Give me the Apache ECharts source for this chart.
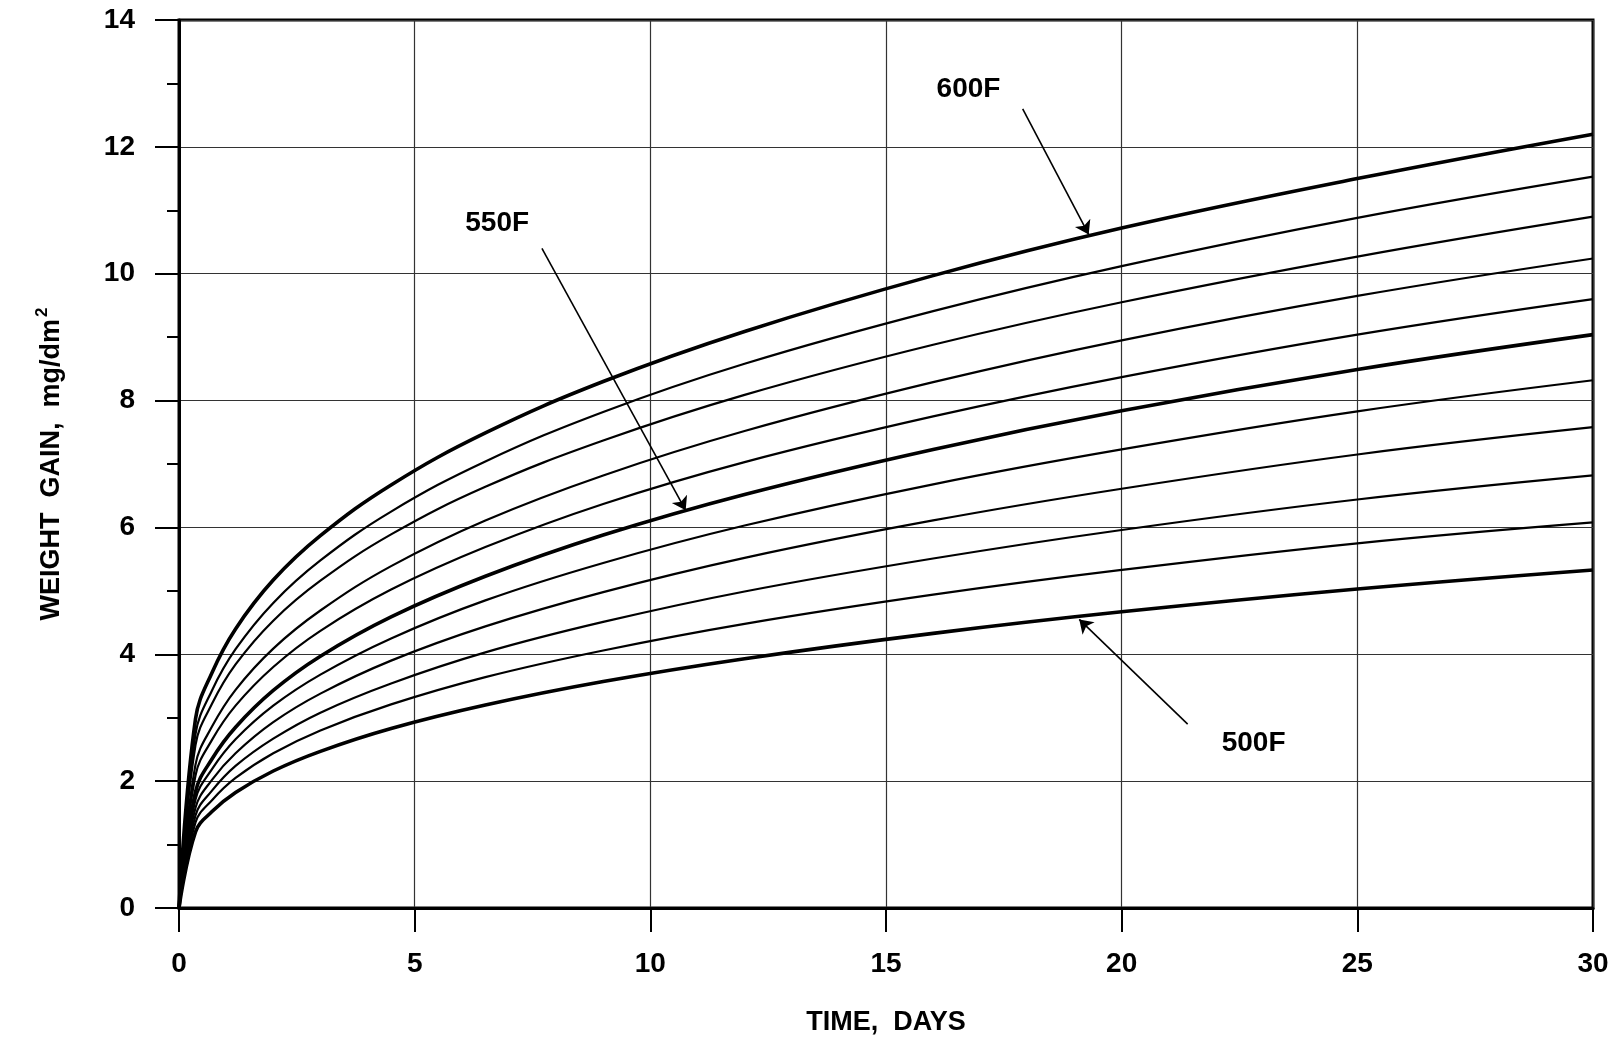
<!DOCTYPE html>
<html>
<head>
<meta charset="utf-8">
<script src="https://cdn.jsdelivr.net/npm/echarts@6/dist/echarts.min.js"></script>
<style>
html,body{margin:0;padding:0;background:#fff;}
#chart{width:1619px;height:1041px;}
</style>
</head>
<body>
<div id="chart"></div>
<script>
// Time, days
const days = [0, 0.35, 0.7, 1.2, 2, 3, 4.5, 6.5, 9, 12, 16, 20, 25, 30];
// Weight gain, mg/dm^2 (curves from 600F down to 500F in 10F steps)
const w600 = [0, 2.98, 3.71, 4.40, 5.17, 5.87, 6.67, 7.49, 8.30, 9.09, 9.97, 10.72, 11.50, 12.20];
const w590 = [0, 2.74, 3.43, 4.08, 4.81, 5.48, 6.25, 7.04, 7.82, 8.58, 9.41, 10.12, 10.88, 11.53];
const w580 = [0, 2.57, 3.22, 3.84, 4.53, 5.16, 5.89, 6.64, 7.37, 8.09, 8.88, 9.55, 10.27, 10.90];
const w570 = [0, 2.26, 2.86, 3.44, 4.09, 4.69, 5.39, 6.11, 6.82, 7.52, 8.29, 8.95, 9.65, 10.24];
const w560 = [0, 2.09, 2.65, 3.19, 3.80, 4.37, 5.02, 5.69, 6.37, 7.03, 7.75, 8.37, 9.04, 9.60];
const w550 = [0, 1.83, 2.35, 2.85, 3.43, 3.97, 4.59, 5.23, 5.88, 6.52, 7.23, 7.84, 8.49, 9.04];
const w540 = [0, 1.71, 2.19, 2.66, 3.19, 3.68, 4.25, 4.85, 5.44, 6.03, 6.68, 7.23, 7.83, 8.32];
const w530 = [0, 1.58, 2.02, 2.44, 2.93, 3.38, 3.90, 4.44, 4.98, 5.52, 6.11, 6.61, 7.15, 7.58];
const w520 = [0, 1.46, 1.85, 2.24, 2.67, 3.08, 3.54, 4.03, 4.51, 4.99, 5.51, 5.96, 6.44, 6.82];
const w510 = [0, 1.35, 1.70, 2.05, 2.44, 2.80, 3.21, 3.64, 4.06, 4.48, 4.94, 5.33, 5.75, 6.08];
const w500 = [0, 1.20, 1.52, 1.82, 2.16, 2.47, 2.83, 3.20, 3.57, 3.93, 4.33, 4.67, 5.03, 5.33];
const curves = [w600, w590, w580, w570, w560, w550, w540, w530, w520, w510, w500];
const boldCurves = [0, 5, 10];

// Curve labels and arrow (from -> to) in data units
const labelNames = ['600F', '550F', '500F'];
const labelPos = [[16.75, 12.9], [6.75, 10.8], [22.8, 2.6]];
const arrowFrom = [[17.9, 12.6], [7.7, 10.4], [21.4, 2.9]];
const arrowTo = [[19.3, 10.62], [10.75, 6.27], [19.1, 4.55]];

// Tick settings
const xMin = 0, xMax = 30, xStep = 5;
const yMin = 0, yMax = 14, yStep = 2;

const FONT = '"Liberation Sans", Arial, Helvetica, sans-serif';
const chart = echarts.init(document.getElementById('chart'));

const series = curves.map((c, k) => ({
  type: 'line',
  data: days.map((t, i) => [t, c[i]]),
  smooth: 0.4,
  showSymbol: false,
  symbol: 'none',
  lineStyle: { color: '#000', width: boldCurves.includes(k) ? 3.6 : 2.2 },
  silent: true,
  z: 3
}));

series.push({
  type: 'lines',
  coordinateSystem: 'cartesian2d',
  symbol: ['none', 'arrow'],
  symbolSize: [0, 13],
  lineStyle: { color: '#000', width: 1.6, opacity: 1 },
  data: arrowFrom.map((f, i) => ({ coords: [f, arrowTo[i]] })),
  z: 4
});

series.push({
  type: 'scatter',
  symbolSize: 0,
  itemStyle: { color: '#000', opacity: 1 },
  data: labelPos.map((p, i) => ({ value: p, name: labelNames[i] })),
  label: {
    show: true,
    position: 'inside',
    formatter: p => p.name,
    fontFamily: FONT,
    fontWeight: 'bold',
    fontSize: 28,
    color: '#000',
    opacity: 1
  },
  z: 5
});

chart.setOption({
  backgroundColor: '#fff',
  animation: false,
  grid: {
    left: 179, top: 20, right: 26, bottom: 132,
    show: true, borderColor: '#000', borderWidth: 3,
    containLabel: false
  },
  xAxis: {
    type: 'value', min: xMin, max: xMax, interval: xStep,
    name: 'TIME,  DAYS', nameLocation: 'middle', nameGap: 101,
    nameTextStyle: { fontFamily: FONT, fontWeight: 'bold', fontSize: 27, color: '#000' },
    axisLine: { show: true, lineStyle: { color: '#000', width: 3 } },
    axisTick: { show: true, length: 24, lineStyle: { color: '#000', width: 2 } },
    axisLabel: { margin: 42, fontFamily: FONT, fontWeight: 'bold', fontSize: 28, color: '#000' },
    splitLine: { show: true, lineStyle: { color: '#333', width: 1.2 } }
  },
  yAxis: {
    type: 'value', min: yMin, max: yMax, interval: yStep,
    name: '{a|WEIGHT  GAIN,  mg/dm}{s|2}', nameLocation: 'middle', nameGap: 110, nameRotate: 90,
    nameTextStyle: {
      rich: {
        a: { fontFamily: FONT, fontWeight: 'bold', fontSize: 27, color: '#000' },
        s: { fontFamily: FONT, fontWeight: 'bold', fontSize: 17, color: '#000', verticalAlign: 'top', padding: [0, 0, 18, 2] }
      }
    },
    axisLine: { show: true, lineStyle: { color: '#000', width: 3 } },
    axisTick: { show: true, length: 24, lineStyle: { color: '#000', width: 2 } },
    minorTick: { show: true, splitNumber: 2, length: 12, lineStyle: { color: '#000', width: 2 } },
    axisLabel: { margin: 44, fontFamily: FONT, fontWeight: 'bold', fontSize: 28, color: '#000' },
    splitLine: { show: true, lineStyle: { color: '#333', width: 1.2 } }
  },
  series: series
});
</script>
</body>
</html>
